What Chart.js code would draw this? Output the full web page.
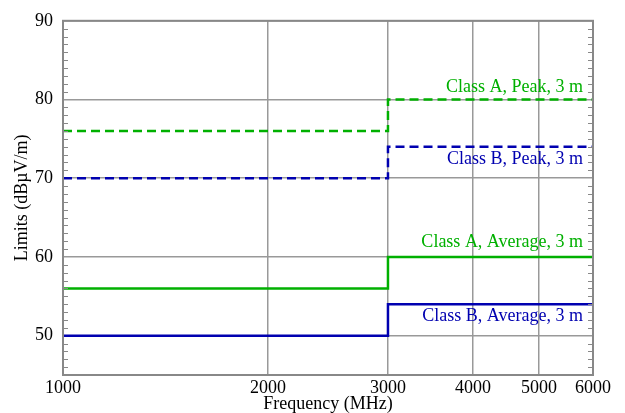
<!DOCTYPE html>
<html>
<head>
<meta charset="utf-8">
<script src="https://cdn.jsdelivr.net/npm/chart.js@4/dist/chart.umd.min.js"></script>
<style>
  html, body { margin: 0; padding: 0; background: #fff; }
  #wrap { width: 625px; height: 413px; }
</style>
</head>
<body>
<div id="wrap"><canvas id="chart1"></canvas></div>
<script>
// Frequencies where the limits change (MHz)
const freqs = [1000, 3000, 6000];

// Limit values (dBuV/m) at each frequency point
const classAPeak = [76, 80, 80];
const classBPeak = [70, 74, 74];
const classAAvg = [56, 60, 60];
const classBAvg = [50, 54, 54];

// Tick labels
const xTicks = [1000, 2000, 3000, 4000, 5000, 6000];
const yTicks = [50, 60, 70, 80, 90];

// Line labels and the level they sit at
const labelTexts = ['Class A, Peak, 3 m', 'Class B, Peak, 3 m', 'Class A, Average, 3 m', 'Class B, Average, 3 m'];
const labelLevels = [81.6, 72.4, 61.9, 52.4];

const green = '#00b000';
const blue = '#0000b0';
const labelColors = [green, blue, green, blue];

const serif = '"Liberation Serif", "Times New Roman", serif';

function toPoints(values) {
    return freqs.map((f, i) => ({x: f, y: values[i]}));
}

function makeDataset(label, values, color, dashed) {
    return {
        label: label,
        data: toPoints(values),
        borderColor: color,
        borderWidth: 2.5,
        borderDash: dashed ? [9, 5] : [],
        stepped: 'before',
        pointRadius: 0,
        fill: false
    };
}

// Frame, minor ticks and line labels
const extrasPlugin = {
    id: 'extras',
    afterDatasetsDraw(chart) {
        const ctx = chart.ctx;
        const area = chart.chartArea;
        const yScale = chart.scales.y;
        const xScale = chart.scales.x;
        ctx.save();

        // minor ticks on left and right
        ctx.strokeStyle = '#888';
        ctx.lineWidth = 1.2;
        for (let v = Math.ceil(yScale.min); v <= yScale.max; v++) {
            if (v % 10 === 0) continue;
            const py = Math.round(yScale.getPixelForValue(v)) + 0.5;
            ctx.beginPath();
            ctx.moveTo(area.left, py);
            ctx.lineTo(area.left + 5, py);
            ctx.moveTo(area.right, py);
            ctx.lineTo(area.right - 5, py);
            ctx.stroke();
        }

        // frame
        ctx.lineWidth = 2;
        ctx.strokeRect(area.left, area.top, area.right - area.left, area.bottom - area.top);

        // labels
        ctx.font = '18px ' + serif;
        ctx.textAlign = 'right';
        ctx.textBaseline = 'middle';
        const rightX = xScale.getPixelForValue(freqs[freqs.length - 1]) - 10;
        labelTexts.forEach((t, i) => {
            ctx.fillStyle = labelColors[i];
            ctx.fillText(t, rightX, yScale.getPixelForValue(labelLevels[i]));
        });
        ctx.restore();
    }
};

new Chart(document.getElementById('chart1'), {
    type: 'line',
    data: {
        datasets: [
            makeDataset('Class A, Peak, 3 m', classAPeak, green, true),
            makeDataset('Class B, Peak, 3 m', classBPeak, blue, true),
            makeDataset('Class A, Average, 3 m', classAAvg, green, false),
            makeDataset('Class B, Average, 3 m', classBAvg, blue, false)
        ]
    },
    plugins: [extrasPlugin],
    options: {
        responsive: true,
        maintainAspectRatio: false,
        animation: false,
        layout: { padding: { top: 19, right: 32, left: 0, bottom: 0 } },
        plugins: {
            legend: { display: false },
            tooltip: { enabled: false }
        },
        scales: {
            x: {
                type: 'logarithmic',
                min: 1000,
                max: 6000,
                afterBuildTicks: (scale) => { scale.ticks = xTicks.map(v => ({value: v})); },
                afterFit: (scale) => { scale.height = 38; },
                grid: { color: '#999', lineWidth: 1.5, drawTicks: false },
                border: { display: false },
                ticks: {
                    color: '#000',
                    font: { family: serif, size: 18 },
                    padding: 2,
                    maxRotation: 0,
                    autoSkip: false,
                    callback: (v) => String(v)
                },
                title: {
                    display: true,
                    text: 'Frequency (MHz)',
                    color: '#000',
                    font: { family: serif, size: 18, lineHeight: 1 },
                    padding: { top: 0, bottom: 0 }
                }
            },
            y: {
                min: 45,
                max: 90,
                afterBuildTicks: (scale) => { scale.ticks = yTicks.map(v => ({value: v})); },
                afterFit: (scale) => { scale.width = 63; },
                grid: { color: '#999', lineWidth: 1.5, drawTicks: false },
                border: { display: false },
                ticks: {
                    color: '#000',
                    font: { family: serif, size: 18 },
                    padding: 10
                },
                title: {
                    display: true,
                    text: 'Limits (dBµV/m)',
                    color: '#000',
                    font: { family: serif, size: 18, lineHeight: 1 },
                    padding: { top: 13, bottom: 0 }
                }
            }
        }
    }
});
</script>
</body>
</html>
